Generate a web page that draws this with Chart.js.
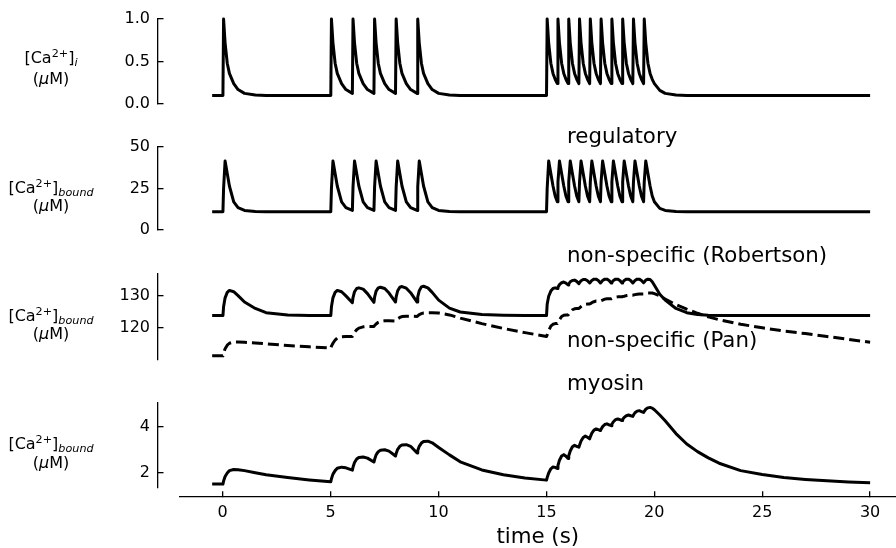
<!DOCTYPE html>
<html>
<head>
<meta charset="utf-8">
<script src="https://cdn.jsdelivr.net/npm/chart.js@4.4.1/dist/chart.umd.min.js"></script>
<style>
  html, body { margin: 0; padding: 0; background: #fff; }
  body { width: 896px; height: 548px; overflow: hidden; position: relative; font-family: "DejaVu Sans", sans-serif; color: #000; }
  canvas { position: absolute; left: 0; }
  .yl { position: absolute; left: 0; width: 102px; text-align: center; font-size: 16px; line-height: 20px; white-space: nowrap; }
  .yl sup, .yl sub { font-size: 0.7em; line-height: 0; }
  .yl sup { vertical-align: 0.5em; }
  .yl sub { vertical-align: -0.25em; }
  .ann { position: absolute; left: 567px; font-size: 21.33px; line-height: 25px; white-space: nowrap; }
</style>
</head>
<body>
<canvas id="c1" width="896" height="133" style="top:-5px"></canvas>
<canvas id="c2" width="896" height="131" style="top:123px"></canvas>
<canvas id="c3" width="896" height="134" style="top:250px"></canvas>
<canvas id="c4" width="896" height="133" style="top:379px"></canvas>
<canvas id="cx" width="896" height="60" style="top:490px"></canvas>

<div class="yl" style="top:47.5px">[Ca<sup>2+</sup>]<sub><i>i</i></sub></div>
<div class="yl" style="top:69px">(<i>μ</i>M)</div>
<div class="yl" style="top:177.5px">[Ca<sup>2+</sup>]<sub><i>bound</i></sub></div>
<div class="yl" style="top:195.5px">(<i>μ</i>M)</div>
<div class="yl" style="top:305.8px">[Ca<sup>2+</sup>]<sub><i>bound</i></sub></div>
<div class="yl" style="top:324px">(<i>μ</i>M)</div>
<div class="yl" style="top:434px">[Ca<sup>2+</sup>]<sub><i>bound</i></sub></div>
<div class="yl" style="top:452.5px">(<i>μ</i>M)</div>

<div class="ann" style="top:123px">regulatory</div>
<div class="ann" style="top:241.6px">non-specific (Robertson)</div>
<div class="ann" style="top:327px">non-specific (Pan)</div>
<div class="ann" style="top:370px">myosin</div>

<script>
// ---------- data ----------
const time = [
  -0.5, 0, 0.03, 0.1, 0.2, 0.3, 0.5, 0.7, 1, 1.5, 2, 3, 4,
  5, 5.03, 5.1, 5.2, 5.3, 5.5, 5.7,
  6, 6.03, 6.1, 6.2, 6.3, 6.5, 6.7,
  7, 7.03, 7.1, 7.2, 7.3, 7.5, 7.7,
  8, 8.03, 8.1, 8.2, 8.3, 8.5, 8.7,
  9, 9.03, 9.1, 9.2, 9.3, 9.5, 9.7,
  10, 10.5, 11, 12, 13, 14,
  15, 15.03, 15.1, 15.2, 15.3, 15.4,
  15.5, 15.53, 15.6, 15.7, 15.8, 15.9,
  16, 16.03, 16.1, 16.2, 16.3, 16.4,
  16.5, 16.53, 16.6, 16.7, 16.8, 16.9,
  17, 17.03, 17.1, 17.2, 17.3, 17.4,
  17.5, 17.53, 17.6, 17.7, 17.8, 17.9,
  18, 18.03, 18.1, 18.2, 18.3, 18.4,
  18.5, 18.53, 18.6, 18.7, 18.8, 18.9,
  19, 19.03, 19.1, 19.2, 19.3, 19.4,
  19.5, 19.53, 19.6, 19.7, 19.8, 19.9,
  20, 20.25, 20.5, 21, 21.5, 22, 22.5, 23, 24, 25, 26, 27, 28, 29, 30
];

const caFree = [
  0.1, 0.1, 1.0, 0.72, 0.48, 0.36, 0.24, 0.17, 0.125, 0.105, 0.1, 0.1, 0.1,
  0.1, 1.0, 0.72, 0.48, 0.36, 0.24, 0.17,
  0.125, 1.0, 0.72, 0.48, 0.36, 0.24, 0.17,
  0.125, 1.0, 0.72, 0.48, 0.36, 0.24, 0.17,
  0.125, 1.0, 0.72, 0.48, 0.36, 0.24, 0.17,
  0.125, 1.0, 0.72, 0.48, 0.36, 0.24, 0.17,
  0.125, 0.105, 0.1, 0.1, 0.1, 0.1,
  0.1, 1.0, 0.72, 0.48, 0.36, 0.29,
  0.24, 1.0, 0.72, 0.48, 0.36, 0.29,
  0.24, 1.0, 0.72, 0.48, 0.36, 0.29,
  0.24, 1.0, 0.72, 0.48, 0.36, 0.29,
  0.24, 1.0, 0.72, 0.48, 0.36, 0.29,
  0.24, 1.0, 0.72, 0.48, 0.36, 0.29,
  0.24, 1.0, 0.72, 0.48, 0.36, 0.29,
  0.24, 1.0, 0.72, 0.48, 0.36, 0.29,
  0.24, 1.0, 0.72, 0.48, 0.36, 0.29,
  0.24, 1.0, 0.72, 0.48, 0.36, 0.29,
  0.24, 0.16, 0.125, 0.105, 0.1, 0.1, 0.1, 0.1, 0.1, 0.1, 0.1, 0.1, 0.1, 0.1, 0.1
];

const regulatory = [
  11, 11, 25, 41.5, 34, 26.5, 17, 13.5, 11.8, 11.1, 11, 11, 11,
  11, 25, 41.5, 34, 26.5, 17, 13.5,
  11.8, 26, 41.5, 34, 26.5, 17, 13.5,
  11.8, 26, 41.5, 34, 26.5, 17, 13.5,
  11.8, 26, 41.5, 34, 26.5, 17, 13.5,
  11.8, 26, 41.5, 34, 26.5, 17, 13.5,
  11.8, 11.1, 11, 11, 11, 11,
  11, 25, 41.5, 34, 26.5, 20.5,
  17, 29, 41.5, 34, 26.5, 20.5,
  17, 29, 41.5, 34, 26.5, 20.5,
  17, 29, 41.5, 34, 26.5, 20.5,
  17, 29, 41.5, 34, 26.5, 20.5,
  17, 29, 41.5, 34, 26.5, 20.5,
  17, 29, 41.5, 34, 26.5, 20.5,
  17, 29, 41.5, 34, 26.5, 20.5,
  17, 29, 41.5, 34, 26.5, 20.5,
  17, 29, 41.5, 34, 26.5, 20.5,
  17, 13, 11.8, 11.1, 11, 11, 11, 11, 11, 11, 11, 11, 11, 11, 11
];

const nsRobertson = [
  123.8, 123.8, 126.5, 129.3, 131, 131.6, 131.2, 130, 128, 126, 124.7, 124, 123.8,
  123.8, 126.5, 129.3, 131, 131.6, 131.2, 129.9,
  127.8, 129.4, 131.2, 132.2, 132.4, 132.0, 130.6,
  127.9, 129.5, 131.4, 132.4, 132.6, 132.2, 130.8,
  128.0, 129.6, 131.5, 132.6, 132.8, 132.3, 130.9,
  128.0, 129.6, 131.5, 132.7, 132.9, 132.4, 131.0,
  128.6, 126.1, 124.9, 124.1, 123.9, 123.8,
  123.8, 127.3, 129.8, 131.4, 132.2, 132.4,
  132.2, 132.6, 133.4, 134.0, 134.2, 133.9,
  133.3, 133.6, 134.3, 134.7, 134.8, 134.4,
  133.7, 134.0, 134.6, 135.0, 135.0, 134.6,
  133.9, 134.1, 134.7, 135.1, 135.1, 134.7,
  133.9, 134.1, 134.7, 135.1, 135.1, 134.7,
  133.9, 134.1, 134.7, 135.1, 135.1, 134.7,
  133.9, 134.1, 134.7, 135.1, 135.1, 134.7,
  133.9, 134.1, 134.7, 135.1, 135.1, 134.7,
  134.0, 134.2, 134.8, 135.1, 135.0, 134.3,
  133.2, 130.4, 128.6, 126.0, 124.7, 124.1, 123.9, 123.8, 123.8, 123.8, 123.8, 123.8, 123.8, 123.8, 123.8
];

const nsPan = [
  111.3, 111.3, 112.2, 113.5, 114.6, 115.2, 115.6, 115.6, 115.5, 115.3, 115.0, 114.5, 114.1,
  113.7, 114.3, 115.2, 116.2, 116.8, 117.2, 117.3,
  117.3, 117.8, 118.6, 119.4, 119.9, 120.3, 120.4,
  120.4, 120.7, 121.2, 121.7, 122.0, 122.2, 122.2,
  122.1, 122.4, 122.8, 123.2, 123.5, 123.6, 123.6,
  123.5, 123.7, 124.1, 124.4, 124.6, 124.7, 124.7,
  124.6, 124.0, 123.0, 121.3, 119.8, 118.5,
  117.3, 117.8, 119.1, 120.5, 121.1, 121.3,
  121.3, 121.6, 122.5, 123.5, 123.9, 124.0,
  124.0, 124.2, 124.9, 125.6, 125.9, 126.0,
  126.0, 126.2, 126.6, 127.1, 127.3, 127.4,
  127.4, 127.5, 127.8, 128.1, 128.3, 128.3,
  128.3, 128.4, 128.6, 128.9, 129.0, 129.0,
  129.0, 129.1, 129.3, 129.5, 129.6, 129.6,
  129.6, 129.7, 129.8, 130.0, 130.1, 130.1,
  130.1, 130.2, 130.3, 130.4, 130.5, 130.5,
  130.5, 130.6, 130.7, 130.8, 130.8, 130.8,
  130.6, 129.9, 128.9, 127.2, 125.8, 124.5, 123.4, 122.5, 121.1, 120.0, 119.0, 118.2, 117.3, 116.4, 115.5
];

const myosin = [
  1.52, 1.52, 1.65, 1.85, 2.0, 2.1, 2.15, 2.14, 2.1, 2.01, 1.92, 1.8, 1.7,
  1.62, 1.75, 1.95, 2.1, 2.2, 2.25, 2.22,
  2.12, 2.25, 2.45, 2.6, 2.67, 2.69, 2.64,
  2.47, 2.58, 2.78, 2.92, 2.98, 3.0, 2.94,
  2.73, 2.84, 3.02, 3.15, 3.21, 3.22, 3.15,
  2.86, 2.97, 3.15, 3.29, 3.36, 3.37, 3.3,
  3.1, 2.78, 2.48, 2.13, 1.92, 1.78,
  1.69, 1.8, 2.0, 2.18, 2.26, 2.24,
  2.19, 2.32, 2.55, 2.73, 2.79, 2.72,
  2.62, 2.74, 2.95, 3.13, 3.19, 3.15,
  3.11, 3.2, 3.38, 3.53, 3.59, 3.54,
  3.47, 3.56, 3.72, 3.85, 3.9, 3.87,
  3.83, 3.89, 4.0, 4.09, 4.12, 4.08,
  4.04, 4.1, 4.21, 4.3, 4.33, 4.3,
  4.26, 4.31, 4.4, 4.47, 4.5, 4.47,
  4.44, 4.5, 4.6, 4.67, 4.69, 4.65,
  4.61, 4.66, 4.75, 4.81, 4.83, 4.8,
  4.73, 4.5, 4.25, 3.7, 3.25, 2.92, 2.65, 2.42, 2.1, 1.93, 1.8, 1.72, 1.66, 1.61, 1.58
];

const xTicks = [0, 5, 10, 15, 20, 25, 30];
const xTickLabels = ['0', '5', '10', '15', '20', '25', '30'];
const caTicks = [0, 0.5, 1.0];
const caTickLabels = ['0.0', '0.5', '1.0'];
const regTicks = [0, 25, 50];
const regTickLabels = ['0', '25', '50'];
const nsTicks = [120, 130];
const nsTickLabels = ['120', '130'];
const myoTicks = [2, 4];
const myoTickLabels = ['2', '4'];

// ---------- chart construction ----------
const FONT = 'DejaVu Sans';
const X_MIN_PANEL = -3.01, X_MIN_AXIS = -2.0, X_MAX = 31.2;
const PAD = 24;

function series(values, dashed) {
  return {
    data: time.map((t, i) => ({ x: t, y: values[i] })),
    borderColor: '#000',
    borderWidth: 3,
    borderDash: dashed ? [11, 5] : [],
    borderJoinStyle: 'round',
    pointRadius: 0,
    tension: 0,
    fill: false,
    clip: false
  };
}

function panel(id, datasets, yMin, yMax, ticks, labels) {
  return new Chart(document.getElementById(id), {
    type: 'line',
    data: { datasets },
    options: {
      responsive: false, animation: false, devicePixelRatio: 1,
      events: [],
      layout: { padding: { top: PAD, bottom: PAD, left: 0, right: 0 } },
      plugins: { legend: { display: false }, tooltip: { enabled: false } },
      scales: {
        x: { type: 'linear', min: X_MIN_PANEL, max: X_MAX, display: false },
        y: {
          type: 'linear', min: yMin, max: yMax,
          afterFit: s => { s.width = 158; },
          afterBuildTicks: s => { s.ticks = ticks.map(v => ({ value: v })); },
          ticks: { color: '#000', font: { family: FONT, size: 16 }, padding: 13.5,
                   callback: (v, i) => labels[i] },
          grid: { display: true, drawOnChartArea: false, drawTicks: true, tickLength: -5.5,
                  color: '#000', lineWidth: 1.3 },
          border: { display: true, color: '#000', width: 1.3 }
        }
      }
    }
  });
}

panel('c1', [series(caFree)], 0, 1, caTicks, caTickLabels);
panel('c2', [series(regulatory)], 0, 50, regTicks, regTickLabels);
panel('c3', [series(nsRobertson), series(nsPan, true)], 110.0, 136.7, nsTicks, nsTickLabels);
panel('c4', [series(myosin)], 1.35, 5.02, myoTicks, myoTickLabels);

new Chart(document.getElementById('cx'), {
  type: 'line',
  data: { datasets: [] },
  options: {
    responsive: false, animation: false, devicePixelRatio: 1,
    events: [],
    layout: { padding: { top: 0, bottom: 0, left: 179.5, right: 0 } },
    plugins: { legend: { display: false }, tooltip: { enabled: false } },
    scales: {
      x: {
        type: 'linear', position: 'bottom', min: X_MIN_AXIS, max: X_MAX,
        afterFit: s => { s.height = 53.3; },
        afterBuildTicks: s => { s.ticks = xTicks.map(v => ({ value: v })); },
        ticks: { color: '#000', font: { family: FONT, size: 16 }, padding: 12,
                 maxRotation: 0, autoSkip: false, callback: (v, i) => xTickLabels[i] },
        grid: { display: true, drawOnChartArea: false, drawTicks: true, tickLength: -5.5,
                color: '#000', lineWidth: 1.3 },
        border: { display: true, color: '#000', width: 1.3 },
        title: { display: true, text: 'time (s)', color: '#000',
                 font: { family: FONT, size: 21.33 }, padding: { top: 0, bottom: 0 } }
      },
      y: { type: 'linear', min: 0, max: 1, display: false }
    }
  }
});
</script>
</body>
</html>
